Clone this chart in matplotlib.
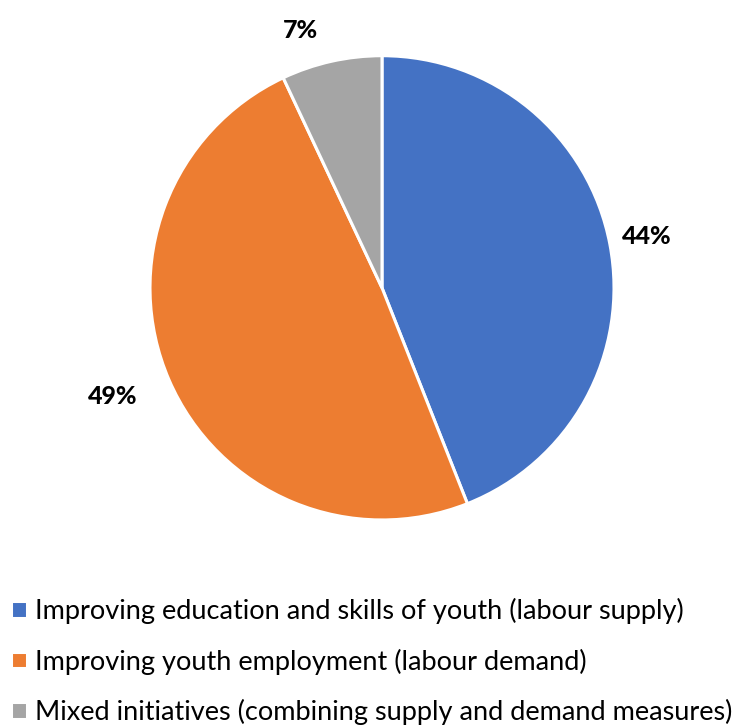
import matplotlib.pyplot as plt

categories = ['Improving education and skills of youth (labour supply)',
              'Improving youth employment (labour demand)',
              'Mixed initiatives (combining supply and demand measures)']
shares = [44, 49, 7]
colors = ['#4472C4', '#ED7D31', '#A5A5A5']
# label positions in pie units (radius = 1)
label_pos = [(1.14, 0.22), (-1.16, -0.47), (-0.35, 1.11)]

plt.rcParams['font.family'] = ['Lato', 'DejaVu Sans']

fig = plt.figure(figsize=(7.43, 7.27), dpi=100)
ax = fig.add_axes([34 / 743, (727 - 578) / 727, 696 / 743, 578 / 727])

wedges, texts, autotexts = ax.pie(
    shares, colors=colors, startangle=90, counterclock=False,
    autopct='%d%%', radius=1,
    wedgeprops=dict(edgecolor='white', linewidth=2.2),
    textprops=dict(fontsize=18, fontweight='black', color='black'))
for t, pos in zip(autotexts, label_pos):
    t.set_position(pos)
    t.set_ha('center')
    t.set_va('center')

ax.set_xlim(-1.5, 1.5)
ax.set_ylim(-1.25, 1.24)
ax.set_aspect('auto')
ax.axis('off')

fig.legend(wedges, categories, loc='upper left', bbox_to_anchor=(11 / 743, 1 - 598 / 727),
           frameon=False, fontsize=19.5, handlelength=0.58, handleheight=0.58,
           handletextpad=0.3, labelspacing=0.9, borderpad=0, borderaxespad=0)

fig.savefig('out.png', dpi=100)
